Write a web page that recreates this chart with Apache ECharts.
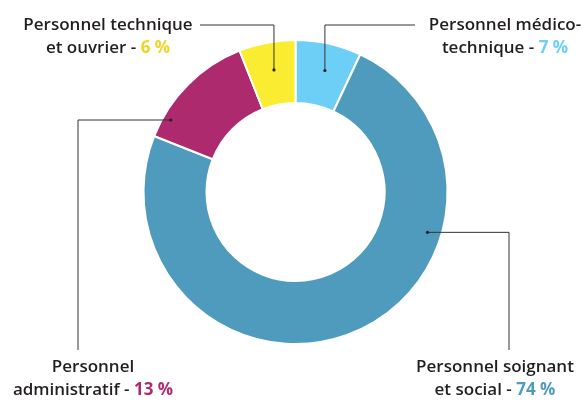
<!DOCTYPE html>
<html>
<head>
<meta charset="utf-8">
<script src="https://cdn.jsdelivr.net/npm/echarts@6/dist/echarts.min.js"></script>
<style>
    html, body { margin: 0; padding: 0; background: #fff; }
    #pie { width: 586px; height: 401px; }
</style>
</head>
<body>
<div id="pie"></div>
<script>
// répartition du personnel (%)
const categories = ['Personnel médico-\ntechnique', 'Personnel soignant\net social', 'Personnel\nadministratif', 'Personnel technique\net ouvrier'];
const values = [7, 74, 13, 6];
const colors = ['#6dcff6', '#4f9bbd', '#ad2a6e', '#f9ec31'];
const pctColors = ['#6dcff6', '#4f9bbd', '#ad2a6e', '#eed52b'];

// placement des étiquettes et des repères (angle depuis le haut, sens horaire)
const labelPos = [
    { x: 505, y: 14, side: 'top', lineX: 415, lineY: 25, dotAngle: 13.6, dotR: 125 },
    { x: 495, y: 356, side: 'bottom', lineX: 509, lineY: 350, dotAngle: 107, dotR: 138 },
    { x: 93, y: 356, side: 'bottom', lineX: 78, lineY: 350, dotAngle: 300, dotR: 144 },
    { x: 108, y: 14, side: 'top', lineX: 200, lineY: 25, dotAngle: 350, dotR: 124 }
];
const center = [295.5, 192];
const radius = [89, 152];

const txt = { fontFamily: 'Open Sans', fontWeight: 600, fontSize: 17, color: '#231f20', lineHeight: 23 };
const rich = { t: txt };
colors.forEach(function (c, i) {
    rich['p' + i] = Object.assign({}, txt, { fontWeight: 700, color: pctColors[i] });
});

function dotOf(lp) {
    const a = lp.dotAngle * Math.PI / 180;
    return [center[0] + lp.dotR * Math.sin(a), center[1] - lp.dotR * Math.cos(a)];
}

function leaderPoints(lp) {
    const d = dotOf(lp);
    if (lp.side === 'top') {
        return [d, [d[0], lp.lineY], [lp.lineX, lp.lineY]];
    }
    return [d, [lp.lineX, d[1]], [lp.lineX, lp.lineY]];
}

const chart = echarts.init(document.getElementById('pie'), null, { renderer: 'canvas' });

const leaders = [];
labelPos.forEach(function (lp) {
    const pts = leaderPoints(lp);
    leaders.push({
        type: 'polyline', z: 100, silent: true,
        shape: { points: pts },
        style: { stroke: '#333', lineWidth: 1, fill: null }
    });
    leaders.push({
        type: 'circle', z: 101, silent: true,
        shape: { cx: pts[0][0], cy: pts[0][1], r: 1.6 },
        style: { fill: '#222' }
    });
});

const option = {
    backgroundColor: '#fff',
    animation: false,
    graphic: leaders,
    series: [{
        type: 'pie',
        center: center,
        radius: radius,
        startAngle: 90,
        clockwise: true,
        avoidLabelOverlap: false,
        silent: true,
        itemStyle: { borderColor: '#fff', borderWidth: 2 },
        label: {
            show: true,
            position: 'outside',
            formatter: function (p) {
                return '{t|' + p.name + ' - }{p' + p.dataIndex + '|' + p.value + ' %}';
            },
            rich: rich
        },
        labelLine: { show: false },
        labelLayout: function (params) {
            const lp = labelPos[params.dataIndex];
            return { x: lp.x, y: lp.y, align: 'center', verticalAlign: 'top' };
        },
        data: values.map(function (v, i) {
            return { name: categories[i], value: v, itemStyle: { color: colors[i] } };
        })
    }]
};

chart.setOption(option);
</script>
</body>
</html>
